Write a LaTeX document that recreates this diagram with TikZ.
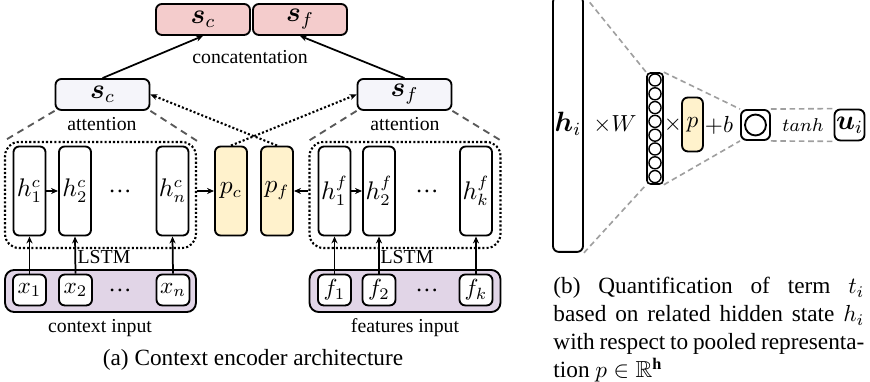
\documentclass[tikz,border=0pt]{standalone}
\usepackage{fontspec}
\setmainfont{Liberation Serif}
\usepackage{amsmath,amssymb,bm}
\usetikzlibrary{arrows.meta}
\definecolor{catred}{HTML}{F4CCCC}
\definecolor{attgray}{HTML}{F5F5FA}
\definecolor{poolyellow}{HTML}{FFF2CC}
\definecolor{inpurple}{HTML}{E1D5E7}
\begin{document}
\begin{tikzpicture}
  [x=0.43pt, y=-0.43pt,
  every node/.style={inner sep=0pt},
  box/.style={draw=black, line width=0.8pt, rounded corners=2.5pt},
  cell/.style={box, minimum width=13.8pt, minimum height=38.3pt, font=\fontsize{10.5}{12}\selectfont},
  pool/.style={cell, fill=poolyellow},
  inbox/.style={box, fill=white, minimum width=14.2pt, minimum height=13.3pt},
  attbox/.style={box, fill=attgray, minimum width=40.4pt, minimum height=13.3pt, font=\large},
  catbox/.style={attbox, fill=catred},
  lstmbox/.style={draw=black, line width=0.9pt, dash pattern=on 0.9pt off 0.9pt,
    rounded corners=6pt, minimum width=82.1pt, minimum height=45.6pt},
  inputbox/.style={box, fill=inpurple, rounded corners=4pt, minimum width=82.1pt, minimum height=18.1pt},
  lbl/.style={font=\fontsize{8.5}{10}\selectfont},
  arr/.style={-{Stealth[length=3pt,width=2.6pt]}, line width=0.75pt},
  dotarr/.style={arr, dash pattern=on 0.9pt off 0.9pt, line width=0.9pt},
  adash/.style={draw=black!65, line width=0.8pt, dash pattern=on 3pt off 2.2pt},
  gdash/.style={draw=gray!75, line width=0.7pt, dash pattern=on 2.4pt off 1.6pt},
  ]
  \useasboundingbox (0,0) rectangle (870,382);

  % (a) context encoder
  \node[lstmbox] (lstmc) at (100.5,195) {};
  \node[lstmbox] (lstmf) at (405,195) {};
  \node[inputbox] (inc) at (100.5,291) {};
  \node[inputbox] (inf) at (405,291) {};

  \node[cell] (hc1) at (29.5,191) {$h^c_1$};
  \node[cell] (hc2) at (75,191) {$h^c_2$};
  \node at (120,191) {\dots};
  \node[cell] (hcn) at (172.5,191) {$h^c_n$};
  \node[pool] (pc) at (231,191) {$p_c$};
  \node[pool] (pf) at (277,191) {$p_f$};
  \node[cell] (hf1) at (334.5,191) {$h^f_1$};
  \node[cell] (hf2) at (379,191) {$h^f_2$};
  \node at (427,191) {\dots};
  \node[cell] (hfk) at (476,191) {$h^f_k$};

  \node[inbox] (x1) at (29.5,290) {$x_1$};
  \node[inbox] (x2) at (75.5,290) {$x_2$};
  \node at (120,290) {\dots};
  \node[inbox] (xn) at (173,290) {$x_n$};
  \node[inbox] (f1) at (334.5,290) {$f_1$};
  \node[inbox] (f2) at (379,290) {$f_2$};
  \node at (427,290) {\dots};
  \node[inbox] (fk) at (476,290) {$f_k$};

  \node[attbox] (attc) at (102.5,94.5) {$\bm{s}_c$};
  \node[attbox] (attf) at (404.5,94.5) {$\bm{s}_f$};
  \node[catbox] (catc) at (203,19.5) {$\bm{s}_c$};
  \node[catbox] (catf) at (300,19.5) {$\bm{s}_f$};

  \node[lbl] (lcat) at (250,57) {concatentation};
  \node[lbl] (lattc) at (102,124) {attention};
  \node[lbl] (lattf) at (405,124) {attention};
  \node[lbl] (llstmc) at (104,257) {LSTM};
  \node[lbl] (llstmf) at (407,257) {LSTM};
  \node[lbl] (linc) at (100,328) {context input};
  \node[lbl] (linf) at (405,328) {features input};
  \node (capa) at (253,360) {(a) Context encoder architecture};

  \draw[arr] (attc.north) -- (catc.south);
  \draw[arr] (attf.north) -- (catf.south);
  \draw[adash] (attc.south west) -- (lstmc.north west);
  \draw[adash] (attc.south east) -- (lstmc.north east);
  \draw[adash] (attf.south west) -- (lstmf.north west);
  \draw[adash] (attf.south east) -- (lstmf.north east);
  \draw[dotarr] (pc.north) -- (attf.west);
  \draw[dotarr] (pf.north) -- (attc.east);
  \draw[arr] (hc1) -- (hc2);
  \draw[arr] (hf1) -- (hf2);
  \draw[arr] (hcn.east -| lstmc.east) -- (pc.west);
  \draw[arr] (hf1.west -| lstmf.west) -- (pf.east);
  \foreach \a/\b in {x1/hc1, x2/hc2, xn/hcn, f1/hf1, f2/hf2, fk/hfk}
    \draw[arr] (\a.north) -- (\b.south);

  % (b) quantification of a term
  \node[box, minimum width=12.9pt, minimum height=110pt, font=\large] (hi) at (568,124) {$\bm{h}_i$};
  \node (xw) at (615,125) {$\times W$};
  \node[box, rounded corners=1.5pt, line width=0.7pt, minimum width=6.9pt, minimum height=47.7pt] (col) at (655,128.5) {};
  \foreach \i in {0,...,7}
    \node[circle, draw, line width=0.6pt, minimum size=5.2pt] (o\i) at (655,{80+13.8*\i}) {};
  \node (xp) at (673,125) {$\times$};
  \node[box, fill=poolyellow, minimum width=9pt, minimum height=23.2pt] (p) at (692.5,124.5) {$p$};
  \node (pb) at (719,125) {$+b$};
  \node[box, minimum width=12.5pt, minimum height=12.9pt] (cbox) at (755.5,125) {};
  \node[circle, draw, line width=0.8pt, minimum size=9pt] (cin) at (cbox) {};
  \node[lbl] (th) at (803,125) {$tanh$};
  \node[box, minimum width=12.9pt, minimum height=13.3pt, font=\large] (ui) at (849.5,125) {$\bm{u}_i$};

  \draw[gdash] (hi.north east) -- (col.north west);
  \draw[gdash] (hi.south east) -- (col.south west);
  \draw[gdash] (col.north east) -- (cbox.north west);
  \draw[gdash] (col.south east) -- (cbox.south west);
  \draw[gdash] (cbox.north east) -- (ui.north west);
  \draw[gdash] (cbox.south east) -- (ui.south west);

  \node[anchor=north west, text width=133.7pt, align=justify] (capb) at (553,277)
    {(b) Quantification of term $t_i$ based on related hidden state $h_i$ with respect to pooled representation $p\in\mathbb{R}^{\mathbf{h}}$};
\end{tikzpicture}
\end{document}
